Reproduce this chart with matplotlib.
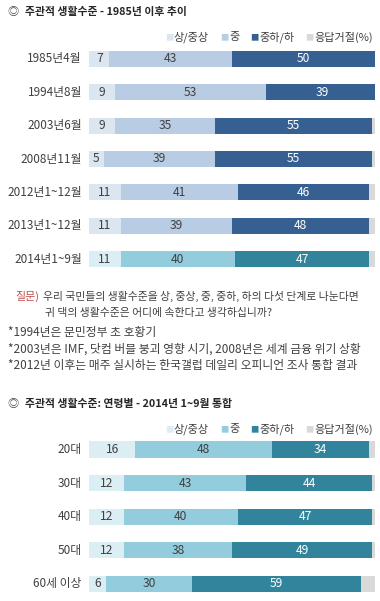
import matplotlib
matplotlib.use("Agg")
import matplotlib.pyplot as plt

plt.rcParams['font.family'] = ['Noto Sans CJK KR', 'DejaVu Sans']

# ---- data ----
periods = ['1985년4월', '1994년8월', '2003년6월', '2008년11월',
           '2012년1~12월', '2013년1~12월', '2014년1~9월']
p_high = [7, 9, 9, 5, 11, 11, 11]
p_mid = [43, 53, 35, 39, 41, 39, 40]
p_low = [50, 39, 55, 55, 46, 48, 47]
p_na = [0, 0, 1, 1, 2, 2, 2]

ages = ['20대', '30대', '40대', '50대', '60세 이상']
a_high = [16, 12, 12, 12, 6]
a_mid = [48, 43, 40, 38, 30]
a_low = [34, 44, 47, 49, 59]
a_na = [2, 1, 1, 1, 5]

legend_labels = ['상/중상', '중', '중하/하', '응답거절(%)']

W, H = 380, 601
fig = plt.figure(figsize=(W / 100, H / 100), dpi=100)
fig.patch.set_facecolor('white')
renderer = fig.canvas.get_renderer()

blue = ['#dce6f1', '#b8cce4', '#366092', '#d9d9d9']
teal = ['#daeef3', '#93cddd', '#31849b', '#d9d9d9']
TXT = '#404040'


def fx(x):
    return x / W


def fy(y):
    return 1 - y / H


def make_axes(y_top, y_bot):
    x0, x1 = 89.3, 375.0
    ax = fig.add_axes([fx(x0), fy(y_bot), (x1 - x0) / W, (y_bot - y_top) / H])
    ax.set_xlim(0, 100)
    ax.axis('off')
    return ax


def draw(ax, cats, hi, mid, lo, na, palettes):
    n = len(cats)
    ax.set_ylim(n - 0.5, -0.5)
    for i in range(n):
        cols = palettes[i]
        vals = [hi[i], mid[i], lo[i], na[i]]
        left = 0
        for j, v in enumerate(vals):
            if v > 0:
                ax.barh(i, v, left=left, height=0.48, color=cols[j],
                        edgecolor='none', clip_on=True)
                if j < 3:
                    ax.text(left + v / 2, i, str(v), ha='center', va='center',
                            fontsize=8.7, color='white' if j == 2 else TXT)
            left += v
        ax.text(-2.6, i, cats[i], ha='right', va='center', fontsize=8.5,
                color=TXT, clip_on=False)


def legend(y, pal, right=373):
    fs = 8.0
    widths = []
    for lab in legend_labels:
        t = fig.text(0, 0, lab, fontsize=fs)
        widths.append(t.get_window_extent(renderer).width)
        t.remove()
    sq_w, sq_gap, item_gap = 6, 3, 11
    total = sum(widths) + len(widths) * (sq_w + sq_gap) + (len(widths) - 1) * item_gap
    x = right - total
    for lab, c, w in zip(legend_labels, pal, widths):
        fig.text(fx(x), fy(y + 0.5), '■', color=c, fontsize=6, ha='left', va='center')
        x += sq_w + sq_gap
        fig.text(fx(x), fy(y), lab, color=TXT, fontsize=fs, ha='left', va='center')
        x += w + item_gap


# ---- top section ----
fig.text(fx(7), fy(12), '◎', fontsize=8, color=TXT, ha='left', va='center')
fig.text(fx(25), fy(12), '주관적 생활수준 - 1985년 이후 추이', fontsize=7.8,
         fontweight='bold', color='#262626', ha='left', va='center')
legend(37, blue)

ax1 = make_axes(42.3, 275.7)
draw(ax1, periods, p_high, p_mid, p_low, p_na, [blue] * 6 + [teal])

# ---- question and notes ----
fig.text(fx(15), fy(296), '질문)', fontsize=7.9, color='#c0504d', ha='left', va='center')
fig.text(fx(43), fy(296), '우리 국민들의 생활수준을 상, 중상, 중, 중하, 하의 다섯 단계로 나눈다면',
         fontsize=7.8, color=TXT, ha='left', va='center')
fig.text(fx(45), fy(313), '귀 댁의 생활수준은 어디에 속한다고 생각하십니까?',
         fontsize=7.8, color=TXT, ha='left', va='center')
notes = ['*1994년은 문민정부 초 호황기',
         '*2003년은 IMF, 닷컴 버블 붕괴 영향 시기, 2008년은 세계 금융 위기 상황',
         '*2012년 이후는 매주 실시하는 한국갤럽 데일리 오피니언 조사 통합 결과']
for k, t in enumerate(notes):
    fig.text(fx(8), fy(333 + 16.5 * k), t, fontsize=8.5, color=TXT,
             ha='left', va='center')

# ---- bottom section ----
fig.text(fx(7), fy(404), '◎', fontsize=8, color=TXT, ha='left', va='center')
fig.text(fx(25), fy(404), '주관적 생활수준: 연령별 - 2014년 1~9월 통합', fontsize=7.8,
         fontweight='bold', color='#262626', ha='left', va='center')
legend(429, teal)

ax2 = make_axes(432.7, 600.8)
draw(ax2, ages, a_high, a_mid, a_low, a_na, [teal] * 5)

fig.savefig('out.png', dpi=100, facecolor='white')
